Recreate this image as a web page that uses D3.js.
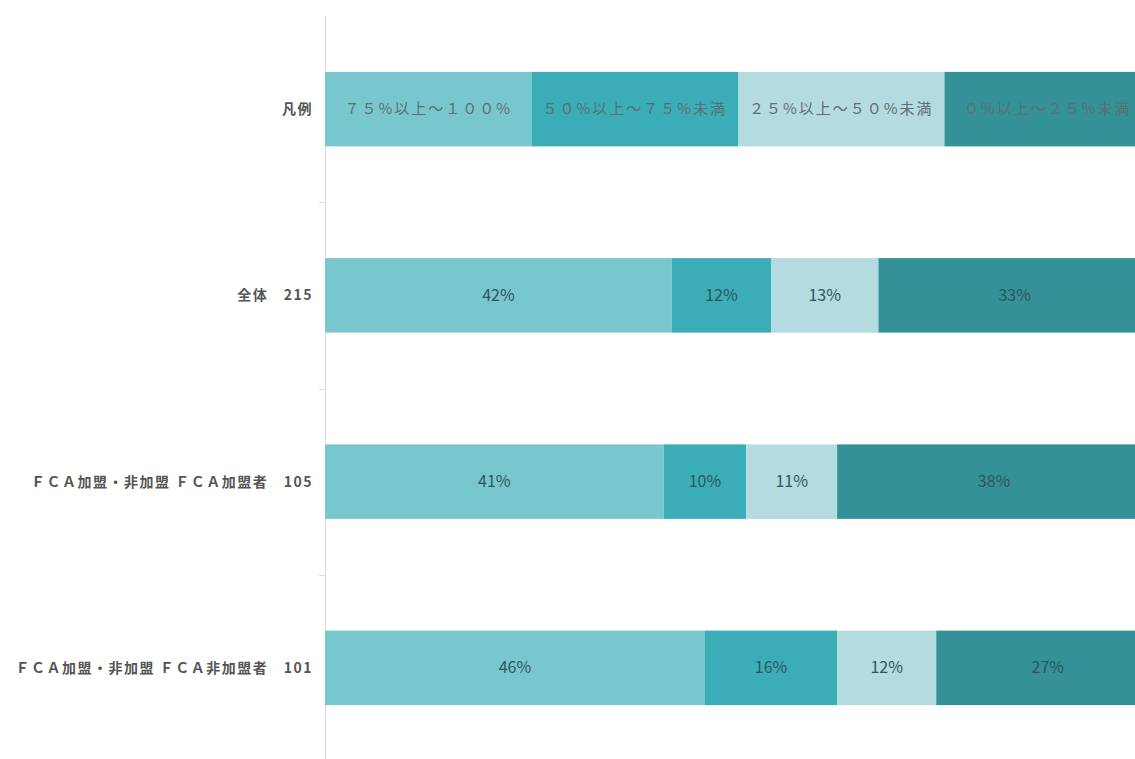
<!DOCTYPE html>
<html><head><meta charset="utf-8">
<script src="https://cdn.jsdelivr.net/npm/d3@7"></script>
<style>
html,body{margin:0;padding:0;background:#fff;overflow:hidden;}
text{font-family:"Noto Sans CJK JP","Noto Sans",sans-serif;}
</style></head>
<body>
<svg id="chart" width="1135" height="759"></svg>
<script>
const categories = ["凡例", "全体　215", "ＦＣＡ加盟・非加盟 ＦＣＡ加盟者　105", "ＦＣＡ加盟・非加盟 ＦＣＡ非加盟者　101"];
const seriesNames = ["７５%以上～１００%", "５０%以上～７５%未満", "２５%以上～５０%未満", "０%以上～２５%未満"];
const legendValues = [25, 25, 25, 25];
const totalValues = [42, 12, 13, 33];
const memberValues = [41, 10, 11, 38];
const nonMemberValues = [46, 16, 12, 27];
const colors = ["#79c7ce", "#3badb6", "#b3dbe0", "#339197"];

const rows = [legendValues, totalValues, memberValues, nonMemberValues];
const svg = d3.select("#chart");

const y = d3.scaleBand().domain(categories).range([16, 761]).paddingInner(0.6).paddingOuter(0.3);
const x = d3.scaleLinear().domain([0, 100]).range([325, 1151]);

svg.append("line").attr("x1", 325.5).attr("x2", 325.5).attr("y1", 16).attr("y2", 761)
  .attr("stroke", "#dcdcdc").attr("stroke-width", 1);
for (let i = 1; i < categories.length; i++) {
  const yy = Math.round((y(categories[i - 1]) + y.bandwidth() + y(categories[i])) / 2) + 0.5;
  svg.append("line").attr("x1", 319).attr("x2", 325).attr("y1", yy).attr("y2", yy)
    .attr("stroke", "#dcdcdc");
}

rows.forEach((vals, ri) => {
  const cat = categories[ri];
  const stacked = [];
  let acc = 0;
  vals.forEach((v, si) => { stacked.push({ s: si, x0: acc, x1: acc + v, v }); acc += v; });
  const g = svg.append("g");
  g.selectAll("rect").data(stacked).join("rect")
    .attr("x", d => x(d.x0)).attr("width", d => x(d.x1) - x(d.x0))
    .attr("y", y(cat)).attr("height", y.bandwidth())
    .attr("fill", d => colors[d.s]);
  g.selectAll("text.v").data(stacked).join("text").attr("class", "v")
    .attr("x", d => (x(d.x0) + x(d.x1)) / 2)
    .attr("y", y(cat) + y.bandwidth() / 2)
    .attr("dy", "0.35em").attr("text-anchor", "middle")
    .attr("font-size", ri === 0 ? 15 : 16)
    .attr("letter-spacing", ri === 0 ? 2 : 0)
    .attr("fill", ri === 0 ? "#5d6f74" : "#2f5560")
    .text(d => ri === 0 ? seriesNames[d.s] : d.v + "%");
  svg.append("text").attr("x", 313).attr("y", y(cat) + y.bandwidth() / 2)
    .attr("dy", "0.35em").attr("text-anchor", "end")
    .attr("font-size", 14).attr("letter-spacing", 1.5).attr("font-weight", "bold").attr("fill", "#555")
    .text(cat);
});
</script>
</body></html>
